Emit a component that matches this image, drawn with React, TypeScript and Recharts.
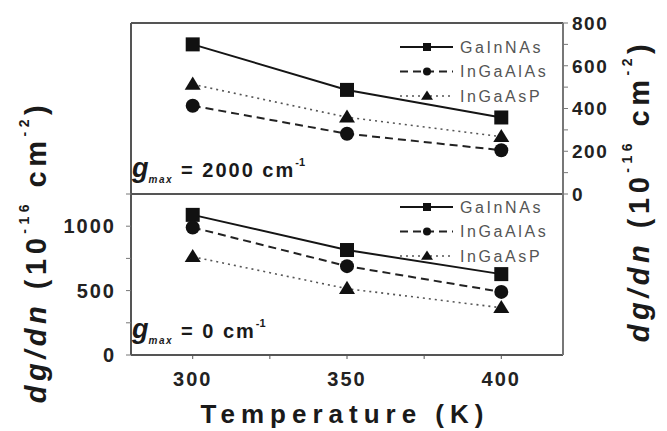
import React from "react";
import { LineChart, Line, XAxis, YAxis, Legend } from "recharts";

// temperature (K)
const temps = [300, 350, 400];

// g_max = 2000 cm^-1 panel (right axis)
const topGaInNAs = [700, 487, 358];
const topInGaAlAs = [413, 282, 205];
const topInGaAsP = [513, 359, 268];

// g_max = 0 cm^-1 panel (left axis)
const botGaInNAs = [1088, 815, 628];
const botInGaAlAs = [990, 690, 490];
const botInGaAsP = [763, 515, 367];

const xTicks = [300, 325, 350, 375, 400];
const topRightTicks = [0, 100, 200, 300, 400, 500, 600, 700, 800];
const topLeftTicks = [0, 160, 320, 480, 640, 800];
const botLeftTicks = [0, 250, 500, 750, 1000, 1250];
const botRightTicks = [0, 156.25, 312.5, 468.75, 625, 781.25, 937.5, 1093.75, 1250];

const names = ["GaInNAs", "InGaAlAs", "InGaAsP"];

const series = [
  { key: "gainnas", dash: undefined, shape: "square", width: 2, color: "#151515" },
  { key: "ingaalas", dash: "8 5", shape: "circle", width: 2, color: "#222" },
  { key: "ingaasp", dash: "2 4", shape: "triangle", width: 1.6, color: "#555" },
];

const topData = temps.map((t, i) => ({
  t,
  gainnas: topGaInNAs[i],
  ingaalas: topInGaAlAs[i],
  ingaasp: topInGaAsP[i],
}));
const botData = temps.map((t, i) => ({
  t,
  gainnas: botGaInNAs[i],
  ingaalas: botInGaAlAs[i],
  ingaasp: botInGaAsP[i],
}));

const FONT = "'Liberation Sans', Arial, sans-serif";
const AXIS = { stroke: "#555", strokeWidth: 2 };

function marker(shape: string, cx: number, cy: number, s: number, fill: string, key?: any) {
  if (shape === "square")
    return <rect key={key} x={cx - s / 2} y={cy - s / 2} width={s} height={s} fill={fill} />;
  if (shape === "circle") return <circle key={key} cx={cx} cy={cy} r={s / 2} fill={fill} />;
  const h = s * 0.9;
  return (
    <polygon
      key={key}
      points={`${cx},${cy - h * 0.62} ${cx - s / 2 - 1},${cy + h * 0.42} ${cx + s / 2 + 1},${cy + h * 0.42}`}
      fill={fill}
    />
  );
}

const dotFor = (shape: string) => (p: any) => marker(shape, p.cx, p.cy, 14, "#111", p.key ?? `${shape}-${p.index}`);

const legendBox = () => (
  <svg width={175} height={76} style={{ display: "block", overflow: "visible" }}>
    {series.map((s, i) => {
      const y = 14 + i * 24.5;
      return (
        <g key={s.key}>
          <line x1={4} x2={57} y1={y} y2={y} stroke={s.color} strokeWidth={s.width} strokeDasharray={s.dash} />
          {marker(s.shape, 31, y, s.shape === "triangle" ? 10 : 8, "#111")}
          <text x={64} y={y} dy="0.36em" fontSize={16} fill="#555" letterSpacing={2.6} fontFamily={FONT}>
            {names[i]}
          </text>
        </g>
      );
    })}
  </svg>
);

const XTick = (p: any) => (
  <text x={p.x} y={p.y} dy={15} textAnchor="middle" fontSize={20} fontWeight={700} fill="#222" letterSpacing={2} fontFamily={FONT}>
    {p.payload.value % 50 === 0 ? p.payload.value : ""}
  </text>
);
const RightTick = (p: any) => (
  <text x={p.x} y={p.y} dy="0.36em" textAnchor="start" fontSize={19} fontWeight={700} fill="#222" letterSpacing={1.5} fontFamily={FONT}>
    {p.payload.value % 200 === 0 ? p.payload.value : ""}
  </text>
);
const LeftTick = (p: any) => (
  <text x={p.x} y={p.y} dy="0.36em" textAnchor="end" fontSize={20} fontWeight={700} fill="#222" letterSpacing={2} fontFamily={FONT}>
    {p.payload.value % 500 === 0 && p.payload.value <= 1000 ? p.payload.value : ""}
  </text>
);

function lines() {
  return series.map((s) => (
    <Line
      key={s.key}
      dataKey={s.key}
      xAxisId="x"
      yAxisId="v"
      type="linear"
      stroke={s.color}
      strokeWidth={s.width}
      strokeDasharray={s.dash}
      dot={dotFor(s.shape)}
      activeDot={false}
      isAnimationActive={false}
    />
  ));
}

function YLabel({ x, y }: { x: number; y: number }) {
  return (
    <text
      x={x}
      y={y}
      transform={`rotate(-90 ${x} ${y})`}
      textAnchor="middle"
      dominantBaseline="central"
      fontSize={29}
      fontWeight={700}
      letterSpacing={4.5}
      fill="#1a1a1a"
      fontFamily={FONT}
    >
      <tspan fontStyle="italic">dg/dn</tspan> (10
      <tspan fontSize={14} dy={-12}>-16</tspan>
      <tspan dy={12}> cm</tspan>
      <tspan fontSize={14} dy={-12}>-2</tspan>
      <tspan dy={12}>)</tspan>
    </text>
  );
}

function GMax({ y, value }: { y: number; value: string }) {
  return (
    <text x={132} y={y} fontWeight={700} fill="#1a1a1a" fontFamily={FONT}>
      <tspan fontSize={27} fontStyle="italic">g</tspan>
      <tspan fontSize={10} fontStyle="italic" dy={6} letterSpacing={1.5}>max</tspan>
      <tspan fontSize={20} dy={-6} dx={8} letterSpacing={2}>= {value} cm</tspan>
      <tspan fontSize={11} dy={-11}>-1</tspan>
    </text>
  );
}

export default function App() {
  return (
    <div style={{ position: "absolute", left: 0, top: 0, width: 667, height: 431, background: "#fff", fontFamily: FONT }}>
      <div style={{ position: "absolute", left: 0, top: 0 }}>
        <LineChart width={667} height={215} data={topData} margin={{ top: 23, right: 44, left: 121, bottom: 15 }}>
          <XAxis xAxisId="x" dataKey="t" type="number" domain={[280, 420]} ticks={xTicks} height={6} tick={false} tickLine={false} axisLine={AXIS} />
          <XAxis xAxisId="top" orientation="top" type="number" domain={[280, 420]} ticks={xTicks} interval={0} height={10} tick={false} mirror tickSize={5} axisLine={AXIS} tickLine={{ stroke: "#555" }} />
          <YAxis yAxisId="v" orientation="right" type="number" domain={[0, 800]} ticks={topRightTicks} interval={0} width={60} tickSize={5} tickMargin={4} tick={<RightTick />} axisLine={{ stroke: "#777", strokeWidth: 2 }} tickLine={{ stroke: "#777" }} />
          <YAxis yAxisId="l" orientation="left" type="number" domain={[0, 800]} ticks={topLeftTicks} interval={0} width={10} tickSize={4} tick={false} axisLine={AXIS} tickLine={{ stroke: "#999" }} />
          <Legend layout="vertical" align="center" verticalAlign="middle" content={legendBox} wrapperStyle={{ top: 33, left: 396, width: 175 }} />
          {lines()}
        </LineChart>
      </div>
      <div style={{ position: "absolute", left: 0, top: 188 }}>
        <LineChart width={667} height={243} data={botData} margin={{ top: 6, right: 44, left: 71, bottom: 36 }}>
          <XAxis xAxisId="x" dataKey="t" type="number" domain={[280, 420]} ticks={xTicks} interval={0} height={40} tickSize={4} tickMargin={12} tick={<XTick />} axisLine={AXIS} tickLine={{ stroke: "#555" }} />
          <XAxis xAxisId="top" orientation="top" type="number" domain={[280, 420]} height={0} tick={false} tickLine={false} axisLine={AXIS} />
          <YAxis yAxisId="v" orientation="left" type="number" domain={[0, 1250]} ticks={botLeftTicks} interval={0} width={60} tickSize={5} tickMargin={10} tick={<LeftTick />} axisLine={AXIS} tickLine={{ stroke: "#777" }} />
          <YAxis yAxisId="r" orientation="right" type="number" domain={[0, 1250]} ticks={botRightTicks} interval={0} width={60} tickSize={4} tick={false} axisLine={{ stroke: "#777", strokeWidth: 2 }} tickLine={{ stroke: "#999" }} />
          <Legend layout="vertical" align="center" verticalAlign="middle" content={legendBox} wrapperStyle={{ top: 5, left: 396, width: 175 }} />
          {lines()}
        </LineChart>
      </div>
      <svg width={667} height={431} style={{ position: "absolute", left: 0, top: 0, pointerEvents: "none" }}>
        <YLabel x={36} y={252} />
        <YLabel x={639} y={191} />
        <GMax y={177} value="2000" />
        <GMax y={338} value="0" />
        <text x={345} y={423} textAnchor="middle" fontSize={26} fontWeight={700} letterSpacing={6} fill="#1a1a1a" fontFamily={FONT}>
          Temperature (K)
        </text>
      </svg>
    </div>
  );
}
